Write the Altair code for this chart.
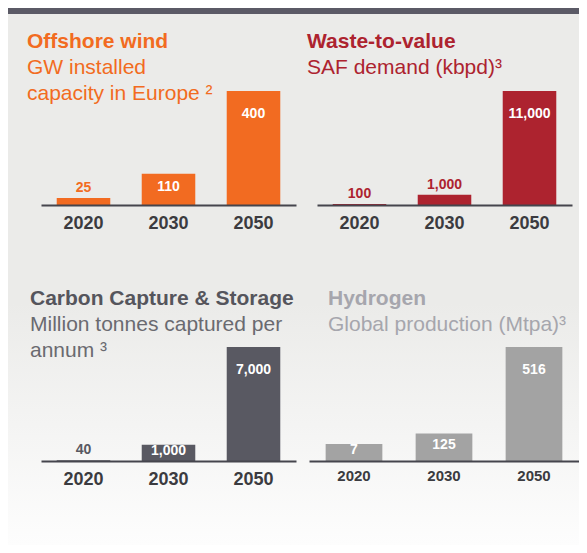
import altair as alt
import pandas as pd

years = ["2020", "2030", "2050"]

wind_values = [25, 110, 400]
waste_values = [100, 1000, 11000]
ccs_values = [40, 1000, 7000]
hydrogen_values = [7, 125, 516]
# the original draws the 2020 hydrogen bar taller than its value; bar lengths
hydrogen_bar = [77, 125, 516]

FONT = "Liberation Sans"
BG = "#ebebe9"


def panel(values, bars, color, above_color, title, title_color, sub_lines, sub_color,
          width, title_xy, sub_y, tick_size, label_pad, background=False):
    df = pd.DataFrame({"year": years, "value": values, "bar": bars})
    vmax = max(bars)
    base = alt.Chart(df).transform_calculate(
        frac=f"datum.bar / {vmax}", mid=f"datum.bar / 2"
    )
    x = alt.X("year:N", sort=years,
              scale=alt.Scale(paddingInner=0.37, paddingOuter=0.185),
              axis=alt.Axis(title=None, labelAngle=0, ticks=False, grid=False, zindex=2,
                            domainColor="#45454d", domainWidth=2,
                            labelFont=FONT, labelFontSize=tick_size, labelFontWeight="bold",
                            labelColor="#3b3b40", labelPadding=label_pad))
    yscale = alt.Scale(domain=[0, vmax], nice=False, zero=True)
    y = alt.Y("bar:Q", scale=yscale, axis=None)

    layers = []
    if background:
        bgdf = pd.DataFrame({"k": [0]})
        grad = alt.LinearGradient(
            gradient="linear", x1=0, y1=0, x2=0, y2=1,
            stops=[alt.GradientStop(color=BG, offset=0),
                   alt.GradientStop(color=BG, offset=0.55),
                   alt.GradientStop(color="#fdfdfd", offset=1)])
        layers.append(alt.Chart(bgdf).mark_rect(fill=grad).encode(
            x=alt.value(-33), x2=alt.value(538), y=alt.value(-83), y2=alt.value(454)))
        layers.append(alt.Chart(bgdf).mark_rect(fill="#5b5a66").encode(
            x=alt.value(-33), x2=alt.value(538), y=alt.value(-83), y2=alt.value(-77)))

    layers.append(base.mark_bar(color=color).encode(x=x, y=y))
    text_common = dict(font=FONT, fontSize=14, fontWeight="bold")
    layers.append(base.transform_filter("datum.frac < 0.1").mark_text(
        color=above_color, baseline="alphabetic", dy=-6, **text_common
    ).encode(x=x, y=y, text=alt.Text("value:Q", format=",")))
    layers.append(base.transform_filter("datum.frac >= 0.1 && datum.frac < 0.5").mark_text(
        color="white", baseline="middle", dy=-2, **text_common
    ).encode(x=x, y=alt.Y("mid:Q", scale=yscale, axis=None), text=alt.Text("value:Q", format=",")))
    layers.append(base.transform_filter("datum.frac >= 0.5").mark_text(
        color="white", baseline="alphabetic", dy=27, **text_common
    ).encode(x=x, y=y, text=alt.Text("value:Q", format=",")))

    tx, ty = title_xy
    layers.append(base.transform_filter("datum.year == '2020'").mark_text(
        font=FONT, fontSize=21, fontWeight="bold", color=title_color,
        align="left", baseline="alphabetic"
    ).encode(x=alt.value(tx), y=alt.value(ty), text=alt.value(title)))
    layers.append(base.transform_filter("datum.year == '2020'").mark_text(
        font=FONT, fontSize=21, color=sub_color, align="left", baseline="alphabetic",
        lineHeight=26
    ).encode(x=alt.value(tx), y=alt.value(sub_y), text=alt.value(sub_lines)))

    return alt.layer(*layers).properties(width=width, height=114)


orange = "#f26b21"
red = "#ad232f"
dark = "#595962"
light = "#a3a3a3"

p1 = panel(wind_values, wind_values, orange, orange, "Offshore wind", orange,
           ["GW installed", "capacity in Europe ²"], orange,
           255, (-14, -43), -17, 18, 9, background=True)
p2 = panel(waste_values, waste_values, red, red, "Waste-to-value", red,
           ["SAF demand (kbpd)³"], red,
           255, (-10, -43), -17, 18, 9)
p3 = panel(ccs_values, ccs_values, dark, dark, "Carbon Capture & Storage", "#55555c",
           ["Million tonnes captured per", "annum ³"], "#6a6a70",
           255, (-11, -42), -16, 18, 9)
p4 = panel(hydrogen_values, hydrogen_bar, light, light, "Hydrogen", "#a6a6ad",
           ["Global production (Mtpa)³"], "#a6a6ad",
           270, (19, -42), -16, 15, 7)

row1 = alt.hconcat(p1, p2, spacing=21, bounds="flush")
row2 = alt.hconcat(p3, p4, spacing=13, bounds="flush")
chart = alt.vconcat(row1, row2, spacing=256, bounds="flush").properties(
    padding=0
).configure(background="white").configure_view(stroke="transparent", strokeWidth=0)

chart.save("out.html", embed_options={"renderer": "svg", "actions": False})
